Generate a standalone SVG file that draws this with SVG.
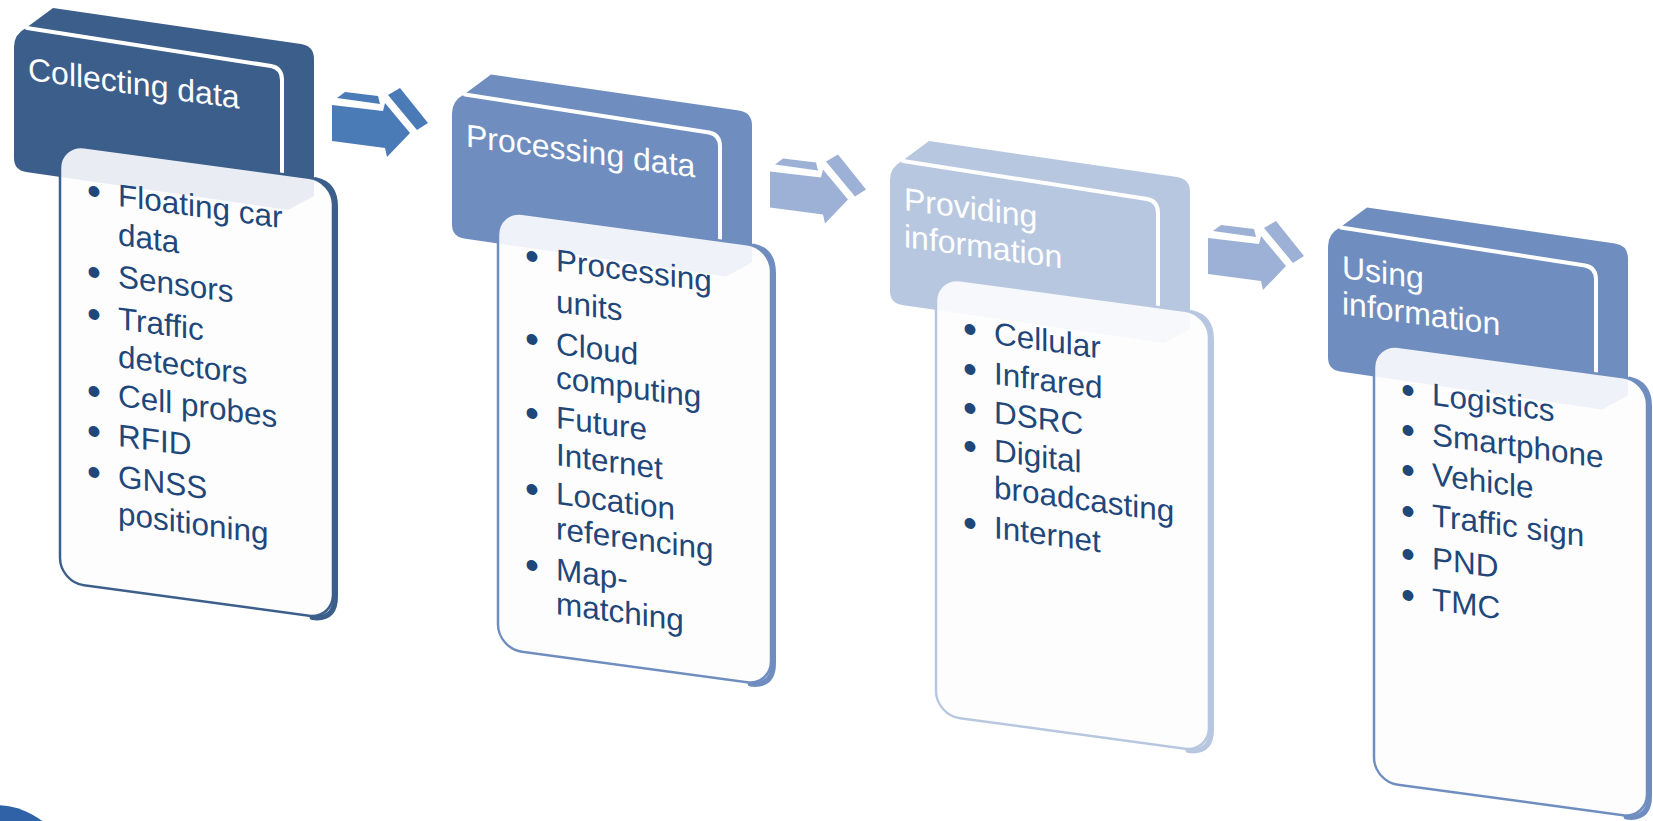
<svg xmlns="http://www.w3.org/2000/svg" xmlns:xlink="http://www.w3.org/1999/xlink" width="1653" height="821" viewBox="0 0 1653 821">
<style>
.ht{font-family:"Liberation Sans",Arial,sans-serif;font-size:32px;fill:#ffffff}
.bt{font-family:"Liberation Sans",Arial,sans-serif;font-size:31.5px;fill:#1f477a}
.bl{font-size:40px}
.wl{fill:none;stroke:#ffffff;stroke-width:4;stroke-linecap:round}
.card{fill:#fdfdfe;fill-opacity:0.9;stroke-width:2.5}
.side{fill:none;stroke-width:5;stroke-linecap:round}
</style>
<defs>
<path id="hdr" d="M14,47 Q14,34 26,28 L53,8 L301,44 Q314,46 314,59 L314,196 L288,210 L26,172 Q14,170 14,158 Z"/>
<path id="wline" d="M27,28 L271,66 Q282,68 282,80 L282,172"/>
<path id="sidep" d="M256,1 Q275.5,2.5 275.5,25 L275.5,415 Q275.5,439 252,439.5"/>
<rect id="cardr" x="0" y="0" width="273" height="438" rx="24" ry="24"/>
<g id="arrow">
<polygon points="332,105 383,111 385,103 410,133 387,157 385,148 332,141"/>
<polygon points="337,98 345,92 378,96 380,104"/>
<polygon points="388,95 400,88 428,123 417,130"/>
</g>
</defs>
<rect x="0" y="0" width="1653" height="821" fill="#ffffff"/>

<g id="connectors">
<use xlink:href="#arrow" fill="#4a7bb7"/>
<use xlink:href="#arrow" fill="#9cb1d5" transform="translate(438,66.5)"/>
<use xlink:href="#arrow" fill="#9cb1d5" transform="translate(876,133)"/>
</g>

<g id="node1">
<use xlink:href="#hdr" fill="#3b5e8b"/>
<use xlink:href="#wline" class="wl"/>
<text class="ht" transform="translate(28,80) skewY(7.7)">Collecting data</text>
<g transform="translate(60,144) skewY(7.7)">
<use xlink:href="#sidep" class="side" stroke="#3b5e8b"/>
<use xlink:href="#cardr" class="card" stroke="#3b5e8b"/>
</g>
<g class="bt" transform="translate(118,0) skewY(7.7)">
<text class="bl" x="-31" y="208">•</text><text x="0" y="206">Floating car</text>
<text x="0" y="245">data</text>
<text class="bl" x="-31" y="289">•</text><text x="0" y="287">Sensors</text>
<text class="bl" x="-31" y="331">•</text><text x="0" y="329">Traffic</text>
<text x="0" y="367">detectors</text>
<text class="bl" x="-31" y="408">•</text><text x="0" y="406">Cell probes</text>
<text class="bl" x="-31" y="448">•</text><text x="0" y="446">RFID</text>
<text class="bl" x="-31" y="489">•</text><text x="0" y="487">GNSS</text>
<text x="0" y="524">positioning</text>
</g>
</g>

<g id="node2">
<g transform="translate(438,66.5)">
<use xlink:href="#hdr" fill="#6f8ebf"/>
<use xlink:href="#wline" class="wl"/>
</g>
<text class="ht" transform="translate(466,146.5) skewY(7.7)">Processing data</text>
<g transform="translate(498,210.5) skewY(7.7)">
<use xlink:href="#sidep" class="side" stroke="#6f8ebf"/>
<use xlink:href="#cardr" class="card" stroke="#6f8ebf"/>
</g>
<g class="bt" transform="translate(556,0) skewY(7.7)">
<text class="bl" x="-31" y="273">•</text><text x="0" y="271">Processing</text>
<text x="0" y="312">units</text>
<text class="bl" x="-31" y="356">•</text><text x="0" y="354">Cloud</text>
<text x="0" y="388">computing</text>
<text class="bl" x="-31" y="430">•</text><text x="0" y="428">Future</text>
<text x="0" y="465">Internet</text>
<text class="bl" x="-31" y="506">•</text><text x="0" y="504">Location</text>
<text x="0" y="539">referencing</text>
<text class="bl" x="-31" y="582">•</text><text x="0" y="580">Map-</text>
<text x="0" y="614">matching</text>
</g>
</g>

<g id="node3">
<g transform="translate(876,133)">
<use xlink:href="#hdr" fill="#b8c7e0"/>
<use xlink:href="#wline" class="wl"/>
</g>
<g class="ht" transform="translate(904,210) skewY(7.7)">
<text x="0" y="0">Providing</text>
<text x="0" y="37">information</text>
</g>
<g transform="translate(936,277) skewY(7.7)">
<use xlink:href="#sidep" class="side" stroke="#b8c7e0"/>
<use xlink:href="#cardr" class="card" stroke="#b8c7e0"/>
</g>
<g class="bt" transform="translate(994,0) skewY(7.7)">
<text class="bl" x="-31" y="346">•</text><text x="0" y="344">Cellular</text>
<text class="bl" x="-31" y="386">•</text><text x="0" y="384">Infrared</text>
<text class="bl" x="-31" y="425">•</text><text x="0" y="423">DSRC</text>
<text class="bl" x="-31" y="463">•</text><text x="0" y="461">Digital</text>
<text x="0" y="498">broadcasting</text>
<text class="bl" x="-31" y="540">•</text><text x="0" y="538">Internet</text>
</g>
</g>

<g id="node4">
<g transform="translate(1314,199.5)">
<use xlink:href="#hdr" fill="#6f8ebf"/>
<use xlink:href="#wline" class="wl"/>
</g>
<g class="ht" transform="translate(1342,278) skewY(7.7)">
<text x="0" y="0">Using</text>
<text x="0" y="36">information</text>
</g>
<g transform="translate(1374,343.5) skewY(7.7)">
<use xlink:href="#sidep" class="side" stroke="#6f8ebf"/>
<use xlink:href="#cardr" class="card" stroke="#6f8ebf"/>
</g>
<g class="bt" transform="translate(1432,0) skewY(7.7)">
<text class="bl" x="-31" y="407">•</text><text x="0" y="405">Logistics</text>
<text class="bl" x="-31" y="447">•</text><text x="0" y="445">Smartphone</text>
<text class="bl" x="-31" y="487">•</text><text x="0" y="485">Vehicle</text>
<text class="bl" x="-31" y="528">•</text><text x="0" y="526">Traffic sign</text>
<text class="bl" x="-31" y="571">•</text><text x="0" y="569">PND</text>
<text class="bl" x="-31" y="612">•</text><text x="0" y="610">TMC</text>
</g>
</g>

<circle cx="-5" cy="883" r="78" fill="#2f62a6"/>
</svg>
